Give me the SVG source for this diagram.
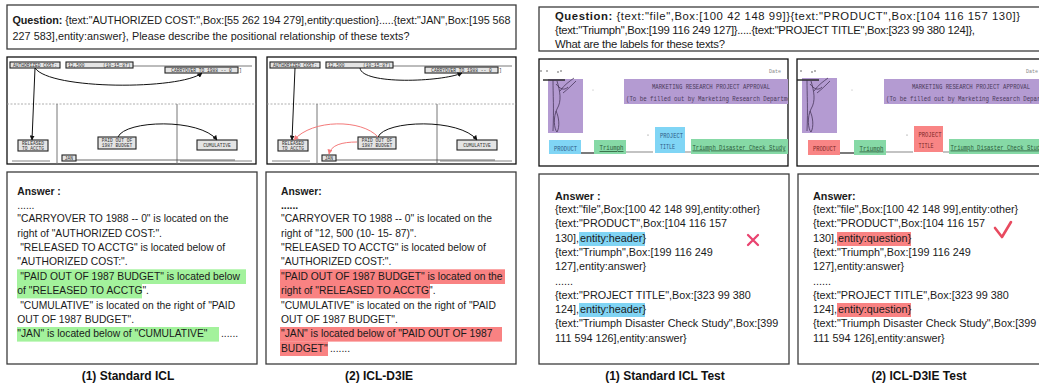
<svg xmlns="http://www.w3.org/2000/svg" width="1039" height="383" viewBox="0 0 1039 383">
<style>
.t{font-family:"Liberation Sans",Arial,sans-serif;font-size:10.3px;fill:#1a1a1a}
.tr{font-family:"Liberation Sans",Arial,sans-serif;font-size:10.8px;fill:#1a1a1a}
.tq{font-family:"Liberation Sans",Arial,sans-serif;font-size:11.3px;fill:#1a1a1a}
.b{font-weight:bold}
.cap{font-family:"Liberation Sans",Arial,sans-serif;font-size:12px;font-weight:bold;fill:#111;text-anchor:middle}
.frame{fill:#fff;stroke:#3c3c3c;stroke-width:1.3}
.pan{fill:#fff;stroke:#111;stroke-width:1.3}
.scan{font-family:"Liberation Mono",monospace;font-size:4.6px;fill:#333}
.sm{font-family:"Liberation Mono",monospace;font-size:8px}
.sb{fill:#e4e4e4;stroke:#222;stroke-width:1.1}
.ln{stroke:#555;stroke-width:0.8;fill:none}
.arr{stroke:#111;stroke-width:1;fill:none;marker-end:url(#ah)}
.arrR{stroke:#f47a7a;stroke-width:1;fill:none;marker-end:url(#ahR)}
.hg{fill:#a3f29c}
.hr{fill:#f98282}
.hb{fill:#80d4f4}
.pu{fill:#b49bd2}
.bl{fill:#80d5f5}
.gr{fill:#86d9a6}
.rd{fill:#f98585}
.sig{stroke:#3a2a4a;stroke-width:0.7;fill:none}
</style>
<defs>
<marker id="ah" viewBox="0 0 10 10" refX="9" refY="5" markerWidth="5" markerHeight="5" markerUnits="userSpaceOnUse" orient="auto"><path d="M0,0 L10,5 L0,10 z" fill="#111"/></marker>
<marker id="ahR" viewBox="0 0 10 10" refX="9" refY="5" markerWidth="5" markerHeight="5" markerUnits="userSpaceOnUse" orient="auto"><path d="M0,0 L10,5 L0,10 z" fill="#f47a7a"/></marker>
<g id="scanBase">
<path class="ln" d="M126,9 H245"/>
<path d="M0,47 H249" stroke="#9a9a9a" stroke-width="0.8" stroke-dasharray="2,1.5" fill="none"/>
<path d="M50,47 V107 M170,47 V107" stroke="#777" stroke-width="1" fill="none"/>
<path d="M69,103 H228" stroke="#444" stroke-width="0.8"/>
<path d="M5,104 H43 M173,104 H245" stroke="#666" stroke-width="0.8"/>
<text class="scan" x="232" y="15">]</text>
</g>
<g id="scanBoxes">
<g id="b-auth"><rect class="sb" x="3" y="5" width="50" height="6"/><text class="scan" x="28" y="9.7" text-anchor="middle">AUTHORIZED COST:</text></g>
<g id="b-cost"><rect class="sb" x="59" y="5" width="67" height="6"/><text class="scan" x="61" y="9.7">12,500</text><text class="scan" x="96" y="9.7">(10-15-87)</text></g>
<g id="b-carry"><rect class="sb" x="158" y="10" width="73" height="6"/><text class="scan" x="194.5" y="14.7" text-anchor="middle">CARRYOVER TO 1988 -- 0</text></g>
<g id="b-rel"><rect class="sb" x="11" y="83" width="30" height="11"/><text class="scan" x="26" y="88" text-anchor="middle">RELEASED</text><text class="scan" x="26" y="92.8" text-anchor="middle">TO ACCTG</text></g>
<g id="b-paid"><rect class="sb" x="91" y="80" width="38" height="12" fill="#eee"/><text class="scan" x="110" y="85" text-anchor="middle">PAID OUT OF</text><text class="scan" x="110" y="90" text-anchor="middle">1987 BUDGET</text></g>
<g id="b-cum"><rect class="sb" x="190" y="83" width="40" height="10"/><text class="scan" x="210" y="89.8" text-anchor="middle">CUMULATIVE</text></g>
<g id="b-jan"><rect class="sb" x="55" y="98" width="14" height="6"/><text class="scan" x="62" y="102.6" text-anchor="middle">JAN</text></g>
</g>
<g id="sigStrokes">
<circle cx="-7" cy="-8" r="0.7" fill="#333"/><circle cx="-1" cy="-8" r="0.7" fill="#333"/><circle cx="10" cy="-7" r="0.7" fill="#333"/><circle cx="13" cy="-8" r="0.7" fill="#333"/>
<path d="M-5,1 H17" stroke="#222" stroke-width="1.4"/>
<path class="sig" d="M5,1 C5,15 6,30 5,52"/>
<path class="sig" d="M9,2 C12,12 14,22 9,30 C5,38 6,50 9,53 C12,48 11,38 8,32"/>
<path class="sig" d="M12,12 C16,6 22,2 26,-1 M15,14 C20,10 24,6 28,2 M8,5 C12,10 16,12 20,8"/>
</g>
<clipPath id="clipP3"><rect x="539" y="59" width="249" height="107"/></clipPath>
<clipPath id="clipP4"><rect x="797" y="59" width="250" height="107"/></clipPath>
</defs>

<rect width="1039" height="383" fill="#fff"/>

<!-- Left question -->
<g id="q-left">
<rect class="frame" x="7" y="5" width="509" height="44"/>
<text class="tr" x="12.5" y="23.5" textLength="498"><tspan class="b">Question:</tspan> {text:"AUTHORIZED COST:",Box:[55 262 194 279],entity:question}.....{text:"JAN",Box:[195 568</text>
<text class="tr" x="12.5" y="39.5" textLength="397">227 583],entity:answer}, Please describe the positional relationship of these texts?</text>
</g>

<!-- Left scan panel 1 -->
<g id="panel-icl" transform="translate(7,57)">
<rect class="pan" x="0" y="0" width="249" height="107"/>
<use href="#scanBase"/>
<use href="#scanBoxes"/>
<g id="conn-icl">
<path class="arr" d="M28,11 L25,83"/>
<path class="arr" d="M28,11 C43,33 173,33 195,16"/>
<path class="arr" d="M111,80 C118,63 193,61 210,83"/>
</g>
</g>

<!-- Left scan panel 2 -->
<g id="panel-d3ie" transform="translate(267,57)">
<rect class="pan" x="0" y="0" width="249" height="107"/>
<use href="#scanBase"/>
<use href="#scanBoxes"/>
<g id="conn-d3ie">
<path class="arr" d="M28,11 L25,83"/>
<path class="arr" d="M93,11 C95,28 175,25 195,16"/>
<path class="arr" d="M111,80 C118,63 193,61 210,83"/>
<path class="arrR" d="M111,80 C95,62 45,62 27,83"/>
<path class="arrR" d="M90,85 C75,85 64,88 62,97"/>
</g>
</g>

<!-- Left answer 1 -->
<g id="ans-icl">
<rect class="frame" x="7" y="172" width="250" height="192"/>
<rect class="hg" x="17" y="269.3" width="229" height="14.7"/>
<rect class="hg" x="17" y="283.8" width="125" height="14.6"/>
<rect class="hg" x="17" y="327" width="202" height="14.6"/>
<text class="t b" x="17.3" y="194.5">Answer :</text>
<text class="t" x="17.3" y="208.5" font-size="8">......</text>
<text class="t" x="17.3" y="222.1">"CARRYOVER TO 1988 -- 0" is located on the</text>
<text class="t" x="17.3" y="236.5">right of "AUTHORIZED COST:".</text>
<text class="t" x="20.2" y="250.9">"RELEASED TO ACCTG" is located below of</text>
<text class="t" x="17.3" y="265.3">"AUTHORIZED COST:".</text>
<text class="t" x="20.2" y="279.7">"PAID OUT OF 1987 BUDGET" is located below</text>
<text class="t" x="17.3" y="294.1">of "RELEASED TO ACCTG".</text>
<text class="t" x="20.2" y="308.5">"CUMULATIVE" is located on the right of "PAID</text>
<text class="t" x="17.3" y="322.9">OUT OF 1987 BUDGET".</text>
<text class="t" x="17.3" y="337.3">"JAN" is located below of "CUMULATIVE"</text>
<text class="t" x="221" y="337.3">......</text>
</g>

<!-- Left answer 2 -->
<g id="ans-d3ie">
<rect class="frame" x="266" y="172" width="250" height="192"/>
<rect class="hr" x="280" y="269.3" width="225" height="14.7"/>
<rect class="hr" x="280" y="283.8" width="150" height="14.6"/>
<rect class="hr" x="280" y="327" width="222" height="14.6"/>
<rect class="hr" x="280" y="341.4" width="48" height="14.6"/>
<text class="t b" x="281" y="194.5">Answer:</text>
<text class="t b" x="281" y="208.5">......</text>
<text class="t" x="281" y="222.1">"CARRYOVER TO 1988 -- 0" is located on the</text>
<text class="t" x="281" y="236.5">right of "12, 500 (10- 15- 87)".</text>
<text class="t" x="281" y="250.9">"RELEASED TO ACCTG" is located below of</text>
<text class="t" x="281" y="265.3">"AUTHORIZED COST:".</text>
<text class="t" x="281" y="279.7">"PAID OUT OF 1987 BUDGET" is located on the</text>
<text class="t" x="281" y="294.1">right of "RELEASED TO ACCTG".</text>
<text class="t" x="281" y="308.5">"CUMULATIVE" is located on the right of "PAID</text>
<text class="t" x="281" y="322.9">OUT OF 1987 BUDGET".</text>
<text class="t" x="281" y="337.3">"JAN" is located below of "PAID OUT OF 1987</text>
<text class="t" x="281" y="351.7">BUDGET"</text>
<text class="t" x="330" y="351.7">.......</text>
</g>

<text class="cap" x="128" y="380">(1) Standard ICL</text>
<text class="cap" x="379" y="380">(2) ICL-D3IE</text>

<!-- Right question -->
<g id="q-right">
<rect class="frame" x="539" y="7" width="510" height="44"/>
<text class="tq" x="555" y="19.5" textLength="465"><tspan class="b">Question:</tspan> {text:"file",Box:[100 42 148 99]}{text:"PRODUCT",Box:[104 116 157 130]}</text>
<text class="tq" x="555" y="33.8" textLength="420">{text:"Triumph",Box:[199 116 249 127]}.....{text:"PROJECT TITLE",Box:[323 99 380 124]},</text>
<text class="tq" x="555" y="48" textLength="170">What are the labels for these texts?</text>
</g>

<!-- Right scan panel 3 -->
<g id="panel-icl-test">
<rect class="pan" x="539" y="59" width="249" height="107"/>
<g clip-path="url(#clipP3)">
<rect class="pu" x="548" y="79" width="35" height="54"/>
<use href="#sigStrokes" transform="translate(548,79)"/>
<circle cx="593" cy="90" r="0.5" fill="#999"/>
<circle cx="648" cy="135" r="0.6" fill="#777"/>
<text x="769" y="73" font-family="Liberation Mono,monospace" font-size="5px" fill="#888">Date</text>
<g id="n3-header"><rect class="pu" x="624" y="79" width="164" height="25"/>
<text class="sm" x="652" y="89" fill="#4a3a5a" font-size="8.5px" textLength="118" lengthAdjust="spacingAndGlyphs">MARKETING RESEARCH PROJECT APPROVAL</text>
<text class="sm" x="626" y="101" fill="#4a3a5a" font-size="8.5px" textLength="175" lengthAdjust="spacingAndGlyphs">(To be filled out by Marketing Research Department)</text></g>
<path d="M581,153 H594" stroke="#222" stroke-width="1.2"/>
<path d="M626,152 H653 M685,152 H691" stroke="#555" stroke-width="0.7"/>
<g id="n3-product"><rect class="bl" x="549" y="140" width="32" height="14"/><text class="sm" x="554" y="150.5" fill="#2d5a85" textLength="23" lengthAdjust="spacingAndGlyphs">PRODUCT</text></g>
<g id="n3-triumph"><rect class="gr" x="594" y="140" width="32" height="14"/><text class="sm" x="599.5" y="150" fill="#2a5a38" text-decoration="underline" textLength="24" lengthAdjust="spacingAndGlyphs">Triumph</text></g>
<g id="n3-title"><rect class="bl" x="655" y="127" width="30" height="26"/><text class="sm" x="660" y="137.5" fill="#2d5a85" textLength="23" lengthAdjust="spacingAndGlyphs">PROJECT</text><text class="sm" x="660" y="148.5" fill="#2d5a85" textLength="15" lengthAdjust="spacingAndGlyphs">TITLE</text></g>
<g id="n3-study"><rect class="gr" x="691" y="139" width="97" height="15"/><text class="sm" x="692.5" y="149.5" fill="#2a5a38" text-decoration="underline" textLength="93" lengthAdjust="spacingAndGlyphs">Triumph Disaster Check Study</text></g>
</g>
</g>

<!-- Right scan panel 4 -->
<g id="panel-d3ie-test">
<rect class="pan" x="797" y="59" width="260" height="107"/>
<g clip-path="url(#clipP4)">
<rect class="pu" x="802" y="78" width="35" height="55"/>
<use href="#sigStrokes" transform="translate(802,79)"/>
<circle cx="852" cy="90" r="0.5" fill="#999"/>
<circle cx="907" cy="135" r="0.6" fill="#777"/>
<text x="1026" y="73" font-family="Liberation Mono,monospace" font-size="5px" fill="#888">Date</text>
<g id="n4-header"><rect class="pu" x="884" y="79" width="170" height="25"/>
<text class="sm" x="912" y="89" fill="#4a3a5a" font-size="8.5px" textLength="118" lengthAdjust="spacingAndGlyphs">MARKETING RESEARCH PROJECT APPROVAL</text>
<text class="sm" x="886" y="101" fill="#4a3a5a" font-size="8.5px" textLength="175" lengthAdjust="spacingAndGlyphs">(To be filled out by Marketing Research Department)</text></g>
<path d="M840,153 H854" stroke="#222" stroke-width="1.2"/>
<path d="M886,152 H913 M943,152 H949" stroke="#555" stroke-width="0.7"/>
<g id="n4-product"><rect class="rd" x="808" y="140" width="32" height="15"/><text class="sm" x="813" y="151" fill="#7a2626" textLength="23" lengthAdjust="spacingAndGlyphs">PRODUCT</text></g>
<g id="n4-triumph"><rect class="gr" x="854" y="140" width="32" height="15"/><text class="sm" x="859.5" y="150.5" fill="#2a5a38" text-decoration="underline" textLength="24" lengthAdjust="spacingAndGlyphs">Triumph</text></g>
<g id="n4-title"><rect class="rd" x="914" y="126" width="29" height="26"/><text class="sm" x="918.5" y="136.5" fill="#7a2626" textLength="23" lengthAdjust="spacingAndGlyphs">PROJECT</text><text class="sm" x="918.5" y="147.5" fill="#7a2626" textLength="15" lengthAdjust="spacingAndGlyphs">TITLE</text></g>
<g id="n4-study"><rect class="gr" x="949" y="139" width="100" height="15"/><text class="sm" x="950.5" y="149.5" fill="#2a5a38" text-decoration="underline" textLength="93" lengthAdjust="spacingAndGlyphs">Triumph Disaster Check Study</text></g>
</g>
</g>

<!-- Right answer 1 -->
<g id="ans-icl-test">
<rect class="frame" x="539" y="174" width="250" height="190"/>
<rect class="hb" x="579" y="232" width="66" height="14"/>
<rect class="hb" x="579" y="303" width="66" height="14"/>
<text class="tr b" x="555" y="200">Answer :</text>
<text class="tr" x="555" y="212.7">{text:"file",Box:[100 42 148 99],entity:other}</text>
<text class="tr" x="555" y="227.2">{text:"PRODUCT",Box:[104 116 157</text>
<text class="tr" x="555" y="241.6">130],<tspan x="580">entity:header</tspan>}</text>
<text class="tr" x="555" y="256">{text:"Triumph",Box:[199 116 249</text>
<text class="tr" x="555" y="270.4">127],entity:answer}</text>
<text class="tr" x="555" y="284.5" font-size="8">......</text>
<text class="tr" x="555" y="298.7">{text:"PROJECT TITLE",Box:[323 99 380</text>
<text class="tr" x="555" y="313">124],<tspan x="580">entity:header</tspan>}</text>
<text class="tr" x="555" y="327.3">{text:"Triumph Disaster Check Study",Box:[399</text>
<text class="tr" x="555" y="341.7">111 594 126],entity:answer}</text>
<path d="M748,235 L758,245 M758,235 L748,245" stroke="#e94470" stroke-width="2.3" stroke-linecap="round"/>
</g>

<!-- Right answer 2 -->
<g id="ans-d3ie-test">
<rect class="frame" x="798" y="174" width="260" height="190"/>
<rect class="hr" x="837" y="232" width="74" height="14"/>
<rect class="hr" x="837" y="303" width="74" height="14"/>
<text class="tr b" x="813" y="200">Answer:</text>
<text class="tr" x="813" y="212.7">{text:"file",Box:[100 42 148 99],entity:other}</text>
<text class="tr" x="813" y="227.2">{text:"PRODUCT",Box:[104 116 157</text>
<text class="tr" x="813" y="241.6">130],<tspan x="838">entity:question</tspan>}</text>
<text class="tr" x="813" y="256">{text:"Triumph",Box:[199 116 249</text>
<text class="tr" x="813" y="270.4">127],entity:answer}</text>
<text class="tr" x="813" y="284.5" font-size="8">......</text>
<text class="tr" x="813" y="298.7">{text:"PROJECT TITLE",Box:[323 99 380</text>
<text class="tr" x="813" y="313">124],<tspan x="838">entity:question</tspan>}</text>
<text class="tr" x="813" y="327.3">{text:"Triumph Disaster Check Study",Box:[399</text>
<text class="tr" x="813" y="341.7">111 594 126],entity:answer}</text>
<path d="M995,228 L1002,237 L1011,222" stroke="#e84a5f" stroke-width="2.6" stroke-linecap="round" stroke-linejoin="round" fill="none"/>
</g>

<text class="cap" x="665" y="380">(1) Standard ICL Test</text>
<text class="cap" x="919" y="380">(2) ICL-D3IE Test</text>
</svg>
